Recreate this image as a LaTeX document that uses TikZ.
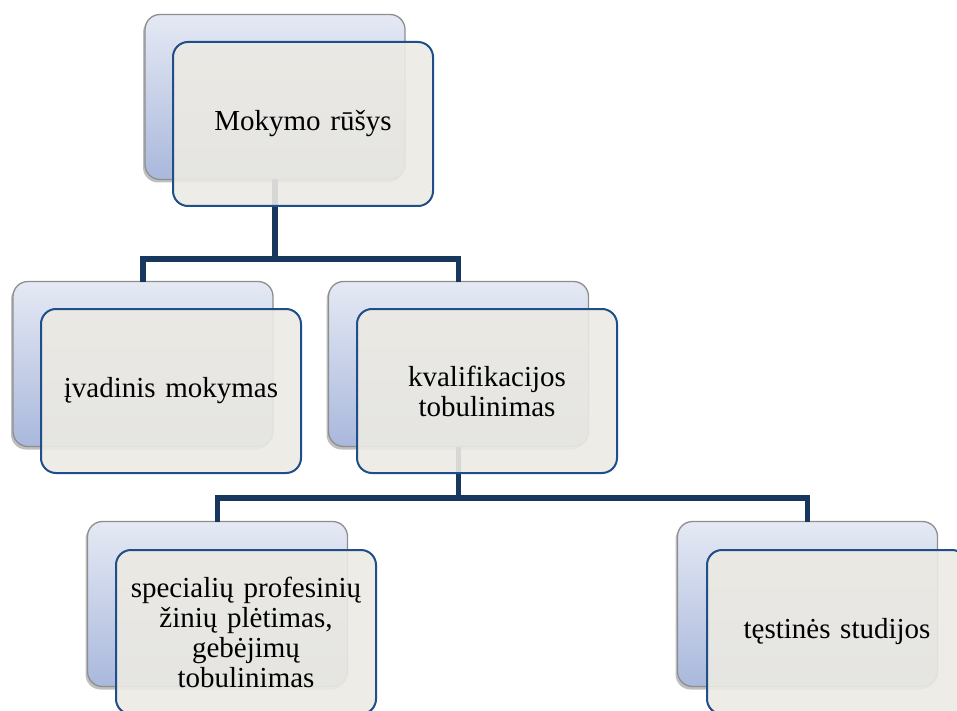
\documentclass[tikz,border=0pt]{standalone}
\usepackage{fontspec}
\setmainfont{Liberation Serif}
\usetikzlibrary{shadows}
\definecolor{backtop}{HTML}{E5E9F4}
\definecolor{backbot}{HTML}{A9B8DC}
\definecolor{backline}{HTML}{8E8E8E}
\definecolor{frontfill}{HTML}{ECEAE3}
\definecolor{frontline}{HTML}{1F4E89}
\definecolor{connline}{HTML}{17375E}
\begin{document}
\begin{tikzpicture}[x=1pt, y=-1pt,
  back/.style={shape=rectangle, rounded corners=15pt, draw=backline, line width=1.3pt,
    top color=backtop, bottom color=backbot, minimum width=260pt, minimum height=165pt,
    inner sep=0pt, outer sep=0pt,
    drop shadow={shadow xshift=-2pt, shadow yshift=-3pt, opacity=0.5}},
  front/.style={shape=rectangle, rounded corners=15pt, draw=frontline, line width=2pt,
    fill=frontfill, fill opacity=0.9, text opacity=1, minimum width=260pt, minimum height=164pt,
    inner sep=0pt, outer sep=0pt, align=center, text width=250pt,
    font=\fontsize{29}{30}\selectfont},
  conn/.style={-, line width=5.5pt, draw=connline}]
\useasboundingbox (0,0) rectangle (957,711);
\node[back] (b1) at (275,97) {};
\node[back] (b2) at (143,364) {};
\node[back] (b3) at (458.5,364) {};
\node[back] (b4) at (217.5,604) {};
\node[back] (b5) at (807.5,604) {};
\coordinate (s1) at (275,259);
\coordinate (s2) at (458.5,498);
\draw[conn] (b1.south) -- (s1) -| (b2.north);
\draw[conn] (s1) -| (b3.north);
\draw[conn] (b3.south) -- (s2) -| (b4.north);
\draw[conn] (s2) -| (b5.north);
\node[front] (1) at (303,124) {Mokymo rūšys};
\node[front] (2) at (171,391) {įvadinis mokymas};
\node[front] (3) at (487,391) {kvalifikacijos\\tobulinimas};
\node[front] (4) at (246,632) {specialių profesinių\\žinių plėtimas,\\gebėjimų\\tobulinimas};
\node[front] (5) at (837,632) {tęstinės studijos};
\end{tikzpicture}
\end{document}
